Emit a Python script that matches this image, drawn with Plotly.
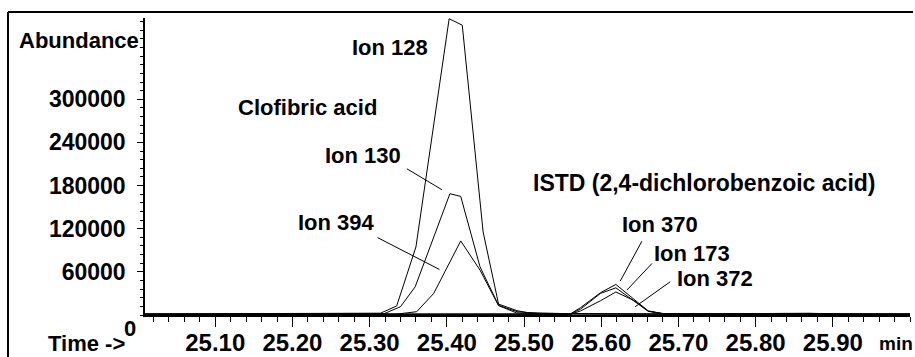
import plotly.graph_objects as go

# ---------------- data ----------------
ion128_t = [25.009, 25.10, 25.20, 25.30, 25.314, 25.335, 25.360, 25.403, 25.420, 25.447, 25.467, 25.491, 25.505, 25.55, 25.60, 25.70, 25.80, 25.90, 26.00]
ion128_v = [1500, 1500, 1500, 1800, 2500, 12500, 94700, 412000, 403000, 115500, 15200, 6000, 3200, 2000, 1500, 1500, 1500, 1500, 1500]

ion130_t = [25.009, 25.10, 25.20, 25.30, 25.318, 25.340, 25.359, 25.404, 25.418, 25.443, 25.467, 25.491, 25.52, 25.60, 25.70, 25.80, 25.90, 26.00]
ion130_v = [1000, 1000, 1000, 1200, 1500, 11500, 39200, 168700, 164900, 67000, 13500, 4600, 2000, 1200, 1000, 1000, 1000, 1000]

ion394_t = [25.009, 25.10, 25.20, 25.30, 25.335, 25.361, 25.383, 25.418, 25.443, 25.467, 25.490, 25.52, 25.60, 25.70, 25.80, 25.90, 26.00]
ion394_v = [1000, 1000, 1000, 1000, 1200, 4600, 30000, 103000, 62400, 13000, 3000, 1500, 1000, 1000, 1000, 1000, 1000]

ion370_t = [25.009, 25.20, 25.40, 25.50, 25.560, 25.573, 25.599, 25.619, 25.642, 25.661, 25.683, 25.75, 25.83, 25.87, 25.91, 26.00]
ion370_v = [1000, 1000, 1000, 1000, 1500, 10000, 31000, 42500, 21800, 5500, 1500, 1200, 2200, 2400, 1300, 1000]

ion173_t = [25.009, 25.20, 25.40, 25.50, 25.560, 25.573, 25.599, 25.619, 25.642, 25.661, 25.683, 25.75, 25.83, 25.87, 25.91, 26.00]
ion173_v = [1000, 1000, 1000, 1000, 1200, 8000, 30000, 37800, 19400, 5000, 1300, 1200, 2000, 2100, 1300, 1000]

ion372_t = [25.009, 25.20, 25.40, 25.50, 25.560, 25.573, 25.599, 25.619, 25.642, 25.661, 25.683, 25.75, 25.83, 25.87, 25.91, 26.00]
ion372_v = [1000, 1000, 1000, 1000, 1000, 5500, 19800, 32000, 20400, 5500, 1200, 1000, 1700, 1800, 1200, 1000]

y_tick_vals = [60000, 120000, 180000, 240000, 300000]
y_tick_text = ["60000", "120000", "180000", "240000", "300000"]
x_tick_vals = [25.10, 25.20, 25.30, 25.40, 25.50, 25.60, 25.70, 25.80, 25.90]
x_tick_text = ["25.10", "25.20", "25.30", "25.40", "25.50", "25.60", "25.70", "25.80", "25.90"]

# labels: text, x(left), y(middle), size
label_text = ["Ion 128", "Clofibric acid", "Ion 130", "Ion 394",
              "ISTD (2,4-dichlorobenzoic acid)", "Ion 370", "Ion 173", "Ion 372"]
label_x = [25.2749, 25.1272, 25.2395, 25.2049, 25.5089, 25.6246, 25.6657, 25.6958]
label_y = [371400, 288300, 221800, 128900, 183000, 126100, 85900, 51300]
label_size = [22, 22, 22, 22, 23, 22, 22, 22]

# leader lines: (t0, v0, t1, v1)
leader_lines = [
    (25.3483, 203300, 25.3937, 174200),   # Ion 130
    (25.3102, 107700, 25.3905, 63300),    # Ion 394
    (25.6527, 102600, 25.6246, 47100),    # Ion 370
    (25.6657, 71600, 25.6333, 34700),     # Ion 173
    (25.6894, 46200, 25.6440, 11500),     # Ion 372
]

X_RANGE = [25.009, 26.0]
Y_RANGE = [0, 413000]

# ---------------- figure ----------------
W, H = 915, 357
ML, MR, MT, MB = 145, 5, 18, 42
FONT = "Liberation Sans, Arial, Helvetica, sans-serif"

fig = go.Figure()
for t, v in [(ion128_t, ion128_v), (ion130_t, ion130_v), (ion394_t, ion394_v),
             (ion370_t, ion370_v), (ion173_t, ion173_v), (ion372_t, ion372_v)]:
    fig.add_trace(go.Scatter(x=t, y=v, mode="lines",
                             line=dict(color="black", width=1),
                             showlegend=False, hoverinfo="skip", cliponaxis=False))

for (t0, v0, t1, v1) in leader_lines:
    fig.add_shape(type="line", xref="x", yref="y", x0=t0, y0=v0, x1=t1, y1=v1,
                  line=dict(color="black", width=1))

for txt, lx, ly, ls in zip(label_text, label_x, label_y, label_size):
    fig.add_annotation(x=lx, y=ly, xref="x", yref="y", text=txt, showarrow=False,
                       xanchor="left", yanchor="middle",
                       font=dict(family=FONT, size=ls, color="black", weight="bold"))

pw = W - ML - MR
ph = H - MT - MB
def px(xp):
    return (xp - ML) / pw
def py(yp):
    return (H - MB - yp) / ph

# outer frame (left and top edges)
fig.add_shape(type="line", xref="paper", yref="paper", x0=px(8), y0=py(12), x1=px(913), y1=py(12),
              line=dict(color="black", width=2))
fig.add_shape(type="line", xref="paper", yref="paper", x0=px(8), y0=py(12), x1=px(8), y1=py(360),
              line=dict(color="black", width=2))

# axis captions
fig.add_annotation(xref="paper", yref="paper", x=px(17), y=py(40), text="Abundance", showarrow=False,
                   xanchor="left", yanchor="middle",
                   font=dict(family=FONT, size=22, color="black", weight="bold"))
fig.add_annotation(xref="paper", yref="paper", x=px(46), y=py(343), text="Time ->", showarrow=False,
                   xanchor="left", yanchor="middle",
                   font=dict(family=FONT, size=22, color="black", weight="bold"))
fig.add_annotation(xref="paper", yref="paper", x=px(138), y=py(328), text="0", showarrow=False,
                   xanchor="right", yanchor="middle",
                   font=dict(family=FONT, size=22, color="black", weight="bold"))
fig.add_annotation(xref="paper", yref="paper", x=px(877), y=py(343), text="min", showarrow=False,
                   xanchor="left", yanchor="middle",
                   font=dict(family=FONT, size=19, color="black", weight="bold"))

fig.update_layout(
    width=W, height=H,
    margin=dict(l=ML, r=MR, t=MT, b=MB, pad=0, autoexpand=False),
    paper_bgcolor="white", plot_bgcolor="white",
    font=dict(family=FONT, color="black", weight="bold"),
    xaxis=dict(range=X_RANGE, showgrid=False, zeroline=False, automargin=False,
               showline=True, linecolor="black", linewidth=1.5,
               tickmode="array", tickvals=x_tick_vals, ticktext=x_tick_text,
               ticks="outside", ticklen=10, tickwidth=1, tickcolor="black",
               ticklabelstandoff=-5,
               tickfont=dict(family=FONT, size=24, color="black", weight="bold"),
               minor=dict(dtick=0.02, tick0=25.0, ticks="outside", ticklen=5,
                          tickwidth=1, tickcolor="black", showgrid=False)),
    yaxis=dict(range=Y_RANGE, showgrid=False, zeroline=False, automargin=False,
               showline=True, linecolor="black", linewidth=1.5,
               tickmode="array", tickvals=y_tick_vals, ticktext=y_tick_text,
               ticks="outside", ticklen=6, tickwidth=1, tickcolor="black",
               ticklabelstandoff=7,
               tickfont=dict(family=FONT, size=23, color="black", weight="bold"),
               minor=dict(dtick=12000, tick0=0, ticks="outside", ticklen=3,
                          tickwidth=1, tickcolor="black", showgrid=False)),
)

fig.write_html("out.html")
